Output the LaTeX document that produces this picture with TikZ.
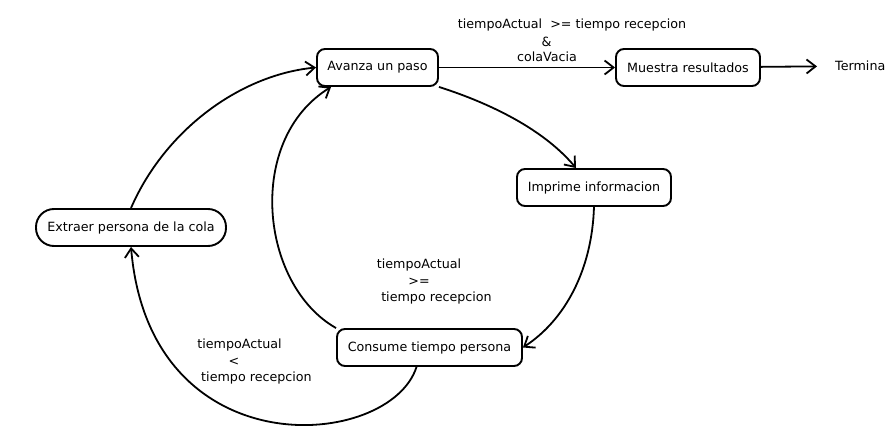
\documentclass[tikz,border=0pt]{standalone}
\usepackage{fontspec}
\setmainfont{DejaVu Sans}
\usetikzlibrary{arrows.meta}
\begin{document}
\begin{tikzpicture}[x=1pt,y=-1pt,
  state/.style={draw, line width=1.9pt, rounded corners=8pt, minimum height=37pt, inner sep=0pt, font=\fontsize{12.7}{15}\selectfont},
  lbl/.style={inner sep=0pt, font=\fontsize{12.7}{15}\selectfont},
  conn/.style={line width=1.8pt, -{Straight Barb[length=9pt,width=14pt,line width=1.8pt]}}]
\useasboundingbox (0,0) rectangle (887,427);
\fill[white] (0,0) rectangle (887,427);
% states
\node[state, minimum width=121pt] (avanza) at (377.5,67.5) {Avanza un paso};
\node[state, minimum width=144pt] (muestra) at (688,67.5) {Muestra resultados};
\node[lbl, anchor=west] (termina) at (835,66) {Termina};
\node[state, minimum width=154pt] (imprime) at (594,187.5) {Imprime informacion};
\node[state, minimum width=190pt, rounded corners=18pt] (extraer) at (131,227.5) {Extraer persona de la cola};
\node[state, minimum width=185pt] (consume) at (429.5,347.5) {Consume tiempo persona};
% labels
\node[lbl] (la1) at (572,25) {tiempoActual~ >= tiempo recepcion};
\node[lbl] (la2) at (546.5,41.5) {\&};
\node[lbl] (la3) at (547,57) {colaVacia};
\node[lbl] (lb1) at (419,265) {tiempoActual};
\node[lbl] (lb2) at (419,282) {>=};
\node[lbl] (lb3) at (436.5,298) {tiempo recepcion};
\node[lbl] (lc1) at (239.5,345) {tiempoActual};
\node[lbl] (lc2) at (234,362) {<};
\node[lbl] (lc3) at (256.5,378) {tiempo recepcion};
% connectors
\draw[conn] (avanza) -- (muestra);
\draw[conn, shorten >=18pt] (muestra) -- (termina);
\draw[conn] (avanza.south east) .. controls (480,100) and (540,125) .. ([xshift=-18pt]imprime.north);
\draw[conn] (imprime.south) .. controls (592,270) and (565,320) .. (consume.east);
\draw[conn] (consume.north west) .. controls (260,285) and (245,140) .. ([xshift=15pt]avanza.south west);
\draw[conn] ([xshift=-13pt]consume.south) .. controls (390,450) and (150,470) .. (extraer.south);
\draw[conn] (extraer.north) .. controls (165,130) and (240,75) .. (avanza.west);
\end{tikzpicture}
\end{document}
